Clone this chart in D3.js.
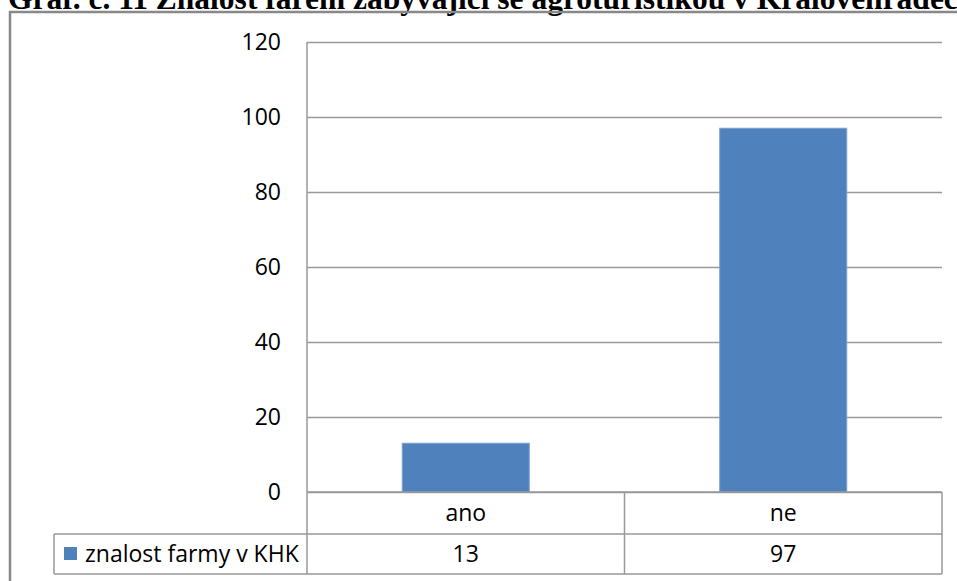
<!DOCTYPE html>
<html>
<head>
<meta charset="utf-8">
<script src="https://cdn.jsdelivr.net/npm/d3@7"></script>
<style>
  body { margin: 0; background: #fff; }
  svg { display: block; }
  .axis text, .table-text { font-family: "Open Sans", sans-serif; font-size: 23px; fill: #000; }
  .grid line { stroke: #999; stroke-width: 1.5; }
  .tbl { stroke: #999; stroke-width: 1.5; }
</style>
</head>
<body>
<svg width="957" height="581"></svg>
<script>
// data
var categories = ["ano", "ne"];
var values = [13, 97];
var seriesName = "znalost farmy v KHK";
var yTicks = [0, 20, 40, 60, 80, 100, 120];
var title = "Graf. č. 11 Znalost farem zabývající se agroturistikou v Královéhradeckém kraji";

var svg = d3.select("svg");

// plot area
var plotLeft = 307, plotRight = 942, plotTop = 42, zero = 492;
var row1 = 534, row2 = 574, legendLeft = 54;

var x = d3.scaleBand().domain(categories).range([plotLeft, plotRight]).paddingInner(0.6).paddingOuter(0.3);
var cols = d3.scaleBand().domain(categories).range([plotLeft, plotRight]);
var y = d3.scaleLinear().domain([0, 120]).range([zero, plotTop]);

// title (clipped at the top like in the scan)
svg.append("text")
    .attr("x", 8)
    .attr("y", 9)
    .style("font-family", "'Liberation Serif', 'Times New Roman', serif")
    .style("font-weight", "bold")
    .style("font-size", "31.5px")
    .text(title);

// gridlines + y labels
var yAxis = svg.append("g")
    .attr("class", "axis grid")
    .attr("transform", "translate(" + plotLeft + ",0)")
    .call(d3.axisLeft(y).tickValues(yTicks).tickSize(-(plotRight - plotLeft)).tickPadding(26));
yAxis.select(".domain").remove();

// bars
svg.selectAll(".bar")
    .data(values)
    .enter().append("rect")
    .attr("class", "bar")
    .attr("x", function(d, i) { return x(categories[i]); })
    .attr("y", function(d) { return y(d); })
    .attr("width", x.bandwidth())
    .attr("height", function(d) { return y(0) - y(d); })
    .style("fill", "#4F81BD")
    .style("stroke", "#7a9fd0")
    .style("stroke-width", 1);

// data table lines
var lines = [
    [plotLeft, plotTop, plotLeft, row2],
    [plotLeft, zero, plotRight, zero],
    [legendLeft, row1, plotRight, row1],
    [legendLeft, row2, plotRight, row2],
    [legendLeft, row1, legendLeft, row2],
    [cols("ne"), zero, cols("ne"), row2],
    [plotRight, zero, plotRight, row2]
];
svg.selectAll(".tbl")
    .data(lines)
    .enter().append("line")
    .attr("class", "tbl")
    .attr("x1", function(d) { return d[0]; })
    .attr("y1", function(d) { return d[1]; })
    .attr("x2", function(d) { return d[2]; })
    .attr("y2", function(d) { return d[3]; });

// category row
svg.selectAll(".cat")
    .data(categories)
    .enter().append("text")
    .attr("class", "table-text")
    .attr("x", function(d) { return cols(d) + cols.bandwidth() / 2; })
    .attr("y", (zero + row1) / 2)
    .attr("text-anchor", "middle")
    .attr("dy", "0.35em")
    .text(function(d) { return d; });

// values row
svg.selectAll(".val")
    .data(values)
    .enter().append("text")
    .attr("class", "table-text")
    .attr("x", function(d, i) { return cols(categories[i]) + cols.bandwidth() / 2; })
    .attr("y", (row1 + row2) / 2)
    .attr("text-anchor", "middle")
    .attr("dy", "0.35em")
    .text(function(d) { return d; });

// legend key in table
svg.append("rect")
    .attr("x", 64)
    .attr("y", 547)
    .attr("width", 13)
    .attr("height", 13)
    .style("fill", "#4F81BD");

svg.append("text")
    .attr("class", "table-text")
    .attr("x", 85)
    .attr("y", (row1 + row2) / 2)
    .attr("dy", "0.35em")
    .text(seriesName);

// outer frame
svg.append("path")
    .attr("d", "M10,581 V12 H957")
    .style("fill", "none")
    .style("stroke", "#888")
    .style("stroke-width", 2.5);
</script>
</body>
</html>
